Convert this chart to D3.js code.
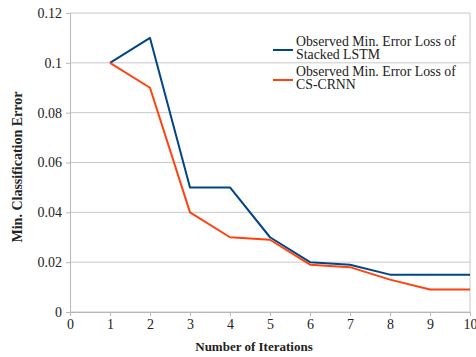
<!DOCTYPE html>
<html>
<head>
<meta charset="utf-8">
<script src="https://cdn.jsdelivr.net/npm/d3@7"></script>
<style>
  body { margin: 0; background: #fff; }
  text { font-family: "Liberation Serif", "Times New Roman", serif; fill: #222; }
  .axis-label { font-weight: bold; }
  .legend text { font-size: 13.8px; }
</style>
</head>
<body>
<div id="chart"></div>
<script>
// Data
const iterations = [1, 2, 3, 4, 5, 6, 7, 8, 9, 10];
const stackedLstm = [0.1, 0.11, 0.05, 0.05, 0.03, 0.02, 0.019, 0.015, 0.015, 0.015];
const csCrnn = [0.1, 0.09, 0.04, 0.03, 0.029, 0.019, 0.018, 0.013, 0.009, 0.009];
const xTicks = [0, 1, 2, 3, 4, 5, 6, 7, 8, 9, 10];
const yTicks = [0, 0.02, 0.04, 0.06, 0.08, 0.1, 0.12];
const seriesNames = [
    ["Observed Min. Error Loss of", "Stacked LSTM"],
    ["Observed Min. Error Loss of", "CS-CRNN"]
];
const colors = ["#004586", "#ff420e"];

// Set dimensions
const margin = { top: 13, right: 6, bottom: 45, left: 70 };
const width = 476 - margin.left - margin.right;
const height = 357 - margin.top - margin.bottom;

const svg = d3.select("#chart")
    .append("svg")
    .attr("width", 476)
    .attr("height", 357)
    .append("g")
    .attr("transform", `translate(${margin.left},${margin.top})`);

// Scales
const x = d3.scaleLinear().domain([0, 10]).range([0, width]);
const y = d3.scaleLinear().domain([0, 0.12]).range([height, 0]);

// Gridlines
svg.append("g")
    .selectAll("line")
    .data(yTicks)
    .enter()
    .append("line")
    .attr("x1", 0)
    .attr("x2", width)
    .attr("y1", d => y(d))
    .attr("y2", d => y(d))
    .attr("stroke", "#c8c8c8")
    .attr("stroke-width", 1);

// Right frame
svg.append("line")
    .attr("x1", width).attr("x2", width)
    .attr("y1", 0).attr("y2", height)
    .attr("stroke", "#c8c8c8");

// Y axis
const yAxis = svg.append("g")
    .call(d3.axisLeft(y).tickValues(yTicks).tickSize(4).tickPadding(4)
        .tickFormat(d => d === 0 ? "0" : String(+d.toFixed(2))));

// X axis
const xAxis = svg.append("g")
    .attr("transform", `translate(0,${height})`)
    .call(d3.axisBottom(x).tickValues(xTicks).tickSize(4).tickPadding(3)
        .tickFormat(d3.format("d")));

[yAxis, xAxis].forEach(a => {
    a.attr("font-family", "Liberation Serif, serif").attr("font-size", 14);
    a.selectAll(".tick text")
        .attr("font-family", "Liberation Serif, serif")
        .style("font-family", "'Liberation Serif', serif")
        .attr("fill", "#222");
    a.select(".domain").attr("stroke", "#b8b8b8");
    a.selectAll(".tick line").attr("stroke", "#b8b8b8");
});

// Lines
const line = d3.line()
    .x((d, i) => x(iterations[i]))
    .y(d => y(d));

[stackedLstm, csCrnn].forEach((s, i) => {
    svg.append("path")
        .datum(s)
        .attr("fill", "none")
        .attr("stroke", colors[i])
        .attr("stroke-width", 2)
        .attr("stroke-linejoin", "round")
        .attr("d", line);
});

// Legend
const legend = svg.append("g").attr("class", "legend");
seriesNames.forEach((lines, i) => {
    const cy = 37 + i * 30;
    legend.append("line")
        .attr("x1", 203).attr("x2", 223)
        .attr("y1", cy).attr("y2", cy)
        .attr("stroke", colors[i])
        .attr("stroke-width", 2);
    lines.forEach((t, j) => {
        legend.append("text")
            .attr("x", 226)
            .attr("y", cy - 4 + j * 12.5)
            .text(t);
    });
});

// Y-axis label
svg.append("text")
    .attr("class", "axis-label")
    .style("font-size", "14px")
    .attr("x", -154)
    .attr("y", -48)
    .attr("transform", "rotate(-90)")
    .attr("text-anchor", "middle")
    .text("Min. Classification Error");

// X-axis label
svg.append("text")
    .attr("class", "axis-label")
    .style("font-size", "13px")
    .attr("x", 254 - margin.left)
    .attr("y", height + 39)
    .attr("text-anchor", "middle")
    .text("Number of Iterations");
</script>
</body>
</html>
